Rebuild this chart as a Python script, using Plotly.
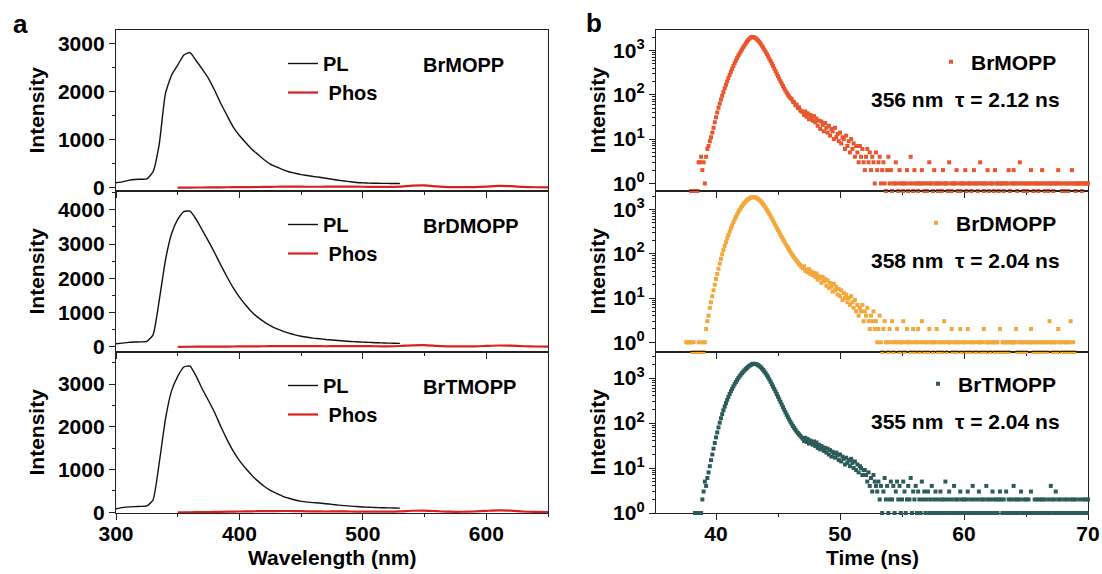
import numpy as np
import plotly.graph_objects as go

# ---------------- panel a: steady-state emission ----------------
wavelength = list(range(300, 535, 5))          # 300 ... 530 nm
pl_brmopp = [100, 120, 150, 170, 175, 180, 330, 900, 1950, 2340, 2550, 2760, 2810, 2640, 2460,
             2270, 2020, 1745, 1500, 1260, 1085, 940, 800, 690, 580, 490, 430, 375, 330, 300,
             270, 252, 232, 215, 195, 175, 155, 138, 122, 108, 100, 93, 91, 89, 88, 86, 85]
pl_brdmopp = [90, 110, 130, 140, 145, 160, 350, 1350, 2520, 3300, 3720, 3950, 3960, 3720, 3400,
              3080, 2740, 2380, 2040, 1720, 1450, 1220, 1020, 860, 730, 620, 530, 460, 400, 350,
              310, 280, 255, 235, 215, 200, 185, 170, 158, 148, 138, 130, 122, 116, 110, 106, 102]
pl_brtmopp = [85, 110, 128, 135, 140, 150, 290, 1150, 2170, 2840, 3180, 3400, 3420, 3180, 2880,
              2610, 2330, 2000, 1700, 1430, 1210, 1030, 870, 730, 610, 515, 445, 375, 330, 290,
              258, 240, 228, 220, 202, 186, 170, 157, 146, 136, 126, 119, 113, 109, 106, 103, 100]

phos_wavelength = list(range(350, 660, 10))    # 350 ... 650 nm
phos_brmopp = [0, 2, 3, 5, 8, 10, 12, 15, 18, 22, 20, 18, 20, 22, 20, 18, 15, 14, 20, 40,
               45, 25, 12, 10, 12, 22, 35, 30, 15, 8, 5]
phos_brdmopp = [0, 3, 5, 6, 8, 12, 15, 18, 20, 22, 22, 20, 18, 20, 22, 20, 18, 16, 25, 45,
                50, 30, 15, 12, 15, 28, 40, 35, 18, 10, 6]
phos_brtmopp = [0, 3, 6, 10, 15, 20, 25, 28, 30, 32, 28, 22, 20, 22, 20, 18, 16, 15, 22, 38,
                42, 28, 15, 14, 20, 35, 48, 40, 20, 10, 6]

# ---------------- panel b: TCSPC decays (counts per 0.1 ns channel) ----------------
channel_ns = 0.1

start_brmopp = 38.0
counts_brmopp = [
    0, 0, 0, 0, 0, 0, 3, 3, 4, 2,
    3, 1, 4, 6, 7, 9, 11, 14, 18, 24,
    31, 40, 51, 63, 78, 95, 115, 140, 168, 200,
    238, 280, 330, 385, 445, 515, 590, 670, 760, 850,
    950, 1060, 1180, 1300, 1440, 1580, 1720, 1850, 1950, 2010,
    2000, 1950, 1870, 1770, 1660, 1540, 1410, 1280, 1160, 1040,
    930, 830, 735, 650, 575, 505, 445, 390, 342, 300,
    263, 230, 202, 178, 157, 139, 124, 111, 100, 91,
    84, 80, 70, 68, 58, 60, 50, 52, 44, 42,
    41, 35, 42, 32, 38, 28, 35, 30, 26, 33,
    24, 29, 20, 26, 17, 25, 21, 15, 23, 18,
    14, 20, 12, 17, 15, 10, 18, 11, 13, 9,
    14, 8, 11, 10, 6, 12, 7, 9, 5, 10,
    6, 8, 4, 7, 5, 3, 7, 4, 6, 3,
    2, 4, 6, 3, 5, 2, 4, 3, 1, 5,
    2, 3, 4, 1, 2, 3, 1, 0, 2, 4,
    1, 2, 0, 1, 1, 3, 1, 0, 2, 1,
    1, 0, 1, 1, 2, 0, 1, 4, 1, 0,
    2, 1, 1, 0, 1, 1, 2, 1, 0, 1,
    0, 1, 3, 1, 1, 0, 2, 1, 1, 0,
    1, 1, 0, 2, 1, 1, 1, 0, 3, 1,
    0, 1, 1, 1, 2, 0, 1, 0, 1, 1,
    1, 2, 0, 1, 1, 1, 0, 1, 2, 1,
    1, 0, 1, 3, 1, 1, 0, 1, 1, 2,
    0, 1, 1, 1, 0, 2, 1, 1, 0, 1,
    1, 1, 0, 1, 1, 1, 2, 0, 1, 1,
    2, 1, 1, 0, 1, 3, 1, 1, 0, 1,
    1, 0, 1, 1, 2, 1, 0, 1, 1, 1,
    0, 1, 1, 2, 1, 0, 1, 1, 0, 1,
    1, 1, 0, 1, 1, 1, 2, 1, 1, 0,
    1, 0, 1, 1, 0, 1, 1, 2, 1, 1,
    0, 1, 1, 1, 1, 0, 1, 1, 1, 1,
    1,
]

start_brdmopp = 37.6
counts_brdmopp = [
    1, 1, 1, 1,
    1, 0, 1, 0, 0, 0, 1, 0, 0, 1,
    0, 1, 2, 3, 4, 6, 8, 11, 15, 20,
    27, 35, 46, 60, 77, 98, 122, 150, 183, 222,
    267, 318, 376, 440, 512, 592, 680, 775, 875, 980,
    1090, 1200, 1310, 1420, 1530, 1630, 1720, 1800, 1860, 1900,
    1920, 1910, 1870, 1810, 1730, 1640, 1540, 1430, 1320, 1210,
    1100, 995, 895, 800, 712, 632, 560, 495, 436, 384,
    345, 305, 270, 240, 214, 191, 171, 153, 137, 123,
    110, 100, 91, 83, 76, 70, 64, 59, 55, 51,
    47, 52, 41, 44, 38, 45, 35, 40, 33, 37,
    30, 36, 26, 31, 28, 22, 30, 24, 27, 19,
    25, 17, 22, 18, 14, 21, 15, 18, 12, 16,
    11, 15, 9, 13, 10, 12, 8, 10, 7, 11,
    8, 6, 9, 5, 7, 4, 6, 5, 7, 3,
    5, 4, 6, 3, 2, 4, 3, 5, 2, 3,
    1, 2, 4, 1, 0, 2, 3, 1, 1, 0,
    2, 1, 3, 0, 1, 1, 2, 1, 0, 1,
    1, 3, 0, 1, 2, 1, 1, 0, 1, 2,
    0, 1, 1, 2, 0, 1, 3, 1, 0, 1,
    1, 0, 2, 1, 1, 0, 1, 1, 2, 0,
    1, 1, 0, 1, 3, 1, 0, 1, 1, 1,
    2, 0, 1, 1, 0, 1, 1, 2, 0, 1,
    1, 1, 0, 2, 1, 0, 1, 1, 1, 0,
    0, 1, 1, 1, 0, 1, 2, 0, 1, 1,
    1, 0, 1, 1, 1, 0, 1, 1, 0, 2,
    0, 1, 1, 0, 1, 1, 0, 1, 1, 1,
    1, 1, 2, 0, 1, 0, 1, 1, 0, 1,
    0, 1, 1, 1, 2, 1, 0, 1, 1, 0,
    1, 0, 1, 1, 0, 1, 1, 0, 1, 3,
    1, 1, 0, 1, 1, 0, 2, 1, 1, 0,
    1, 0, 1, 1, 0, 1, 3, 0, 1, 0,
]

start_brtmopp = 38.3
counts_brtmopp = [
    0, 0, 0, 0, 0, 0, 2,
    3, 5, 4, 6, 8, 11, 15, 20, 27, 36,
    48, 62, 80, 102, 128, 158, 193, 233, 278, 328,
    383, 443, 508, 578, 653, 733, 818, 908, 1000, 1095,
    1190, 1290, 1390, 1490, 1590, 1690, 1790, 1880, 1960, 2030,
    2070, 2080, 2060, 2010, 1940, 1850, 1750, 1640, 1520, 1400,
    1280, 1160, 1045, 935, 830, 735, 650, 572, 502, 440,
    385, 337, 295, 258, 226, 198, 174, 153, 135, 120,
    107, 96, 86, 78, 71, 65, 60, 56, 52, 48,
    45, 40, 47, 38, 44, 35, 41, 36, 33, 39,
    31, 37, 28, 33, 26, 31, 29, 24, 28, 22,
    27, 20, 25, 18, 23, 21, 17, 22, 19, 15,
    20, 14, 18, 16, 12, 17, 13, 15, 11, 16,
    13, 10, 14, 9, 12, 8, 11, 10, 7, 9,
    9, 7, 5, 8, 4, 6, 3, 7, 5, 4,
    3, 5, 2, 4, 1, 3, 6, 2, 4, 1,
    2, 5, 2, 4, 1, 3, 5, 2, 4, 1,
    2, 5, 3, 1, 2, 4, 2, 6, 1, 3,
    2, 4, 1, 3, 2, 1, 5, 2, 3, 1,
    2, 3, 1, 2, 4, 1, 2, 3, 1, 2,
    1, 3, 2, 1, 2, 5, 1, 2, 3, 1,
    2, 1, 4, 2, 1, 2, 1, 3, 2, 1,
    2, 1, 2, 3, 1, 2, 1, 4, 2, 1,
    1, 2, 3, 1, 2, 1, 2, 1, 4, 2,
    1, 2, 1, 3, 2, 1, 2, 1, 2, 3,
    2, 1, 2, 1, 3, 1, 2, 1, 2, 1,
    4, 2, 1, 2, 1, 2, 3, 1, 2, 1,
    2, 1, 2, 1, 3, 1, 1, 2, 1, 2,
    1, 2, 1, 2, 1, 2, 1, 1, 2, 1,
    4, 2, 1, 2, 3, 1, 2, 1, 2, 1,
    1, 2, 1, 2, 1, 1, 2, 1, 2, 1,
    2, 1, 1, 2, 1, 1, 2, 1, 2, 1,
    2,
]

samples = ["BrMOPP", "BrDMOPP", "BrTMOPP"]
pl_series = [pl_brmopp, pl_brdmopp, pl_brtmopp]
phos_series = [phos_brmopp, phos_brdmopp, phos_brtmopp]
decay_series = [(start_brmopp, counts_brmopp), (start_brdmopp, counts_brdmopp),
                (start_brtmopp, counts_brtmopp)]
emission_peak = ["356 nm", "358 nm", "355 nm"]
lifetime = ["2.12 ns", "2.04 ns", "2.04 ns"]

# ---------------- styling ----------------
W, H = 1102, 574
FONT = "Liberation Sans, Arial, sans-serif"
decay_colors = ["#E8562E", "#F3A83B", "#2B5C5A"]
pl_color = "#111111"
phos_color = "#DA1F1F"
axis_color = "#222222"

left_y_ranges = [[-70, 3280], [-150, 4550], [-15, 3750]]
right_y_ranges = [[-0.17, 3.46], [-0.22, 3.42], [0.0, 3.58]]   # log10 units
rows_px = [(30, 191), (191, 352), (352, 513)]
left_px = (116, 548)
right_px = (656, 1088)


def font(size=21, color="black"):
    return dict(family=FONT, size=size, color=color, weight="bold")


def xdom(px):
    return [px[0] / W, px[1] / W]


def ydom(row):
    return [1 - row[1] / H, 1 - row[0] / H]


def label(text, x_px, y_px, size=21, xanchor="center", angle=0):
    return dict(text=text, x=x_px / W, y=1 - y_px / H, xref="paper", yref="paper",
                xanchor=xanchor, yanchor="middle", textangle=angle, showarrow=False,
                font=font(size))


fig = go.Figure()

legend_names = ["legend", "legend2", "legend3", "legend4", "legend5", "legend6"]

# panel a traces
for i in range(3):
    ax = str(i + 1)
    fig.add_trace(go.Scatter(
        x=wavelength, y=pl_series[i], mode="lines", name="PL",
        line=dict(color=pl_color, width=1.4, shape="spline", smoothing=0.5),
        xaxis="x" + ax, yaxis="y" + ax, legend=legend_names[i]))
    fig.add_trace(go.Scatter(
        x=phos_wavelength, y=phos_series[i], mode="lines", name="\u00a0Phos",
        line=dict(color=phos_color, width=2.2, shape="spline", smoothing=0.6),
        xaxis="x" + ax, yaxis="y" + ax, legend=legend_names[i]))

# panel b traces: empty channels are drawn on the axis floor
for i in range(3):
    ax = str(i + 4)
    t_start, counts = decay_series[i]
    counts = np.asarray(counts, dtype=float)
    times = np.round(t_start + channel_ns * np.arange(counts.size), 2)
    floor = 10 ** right_y_ranges[i][0]
    shown = np.where(counts > 0, counts, floor)
    fig.add_trace(go.Scatter(
        x=times, y=shown, mode="markers", name=samples[i],
        marker=dict(symbol="square", size=4, color=decay_colors[i], line=dict(width=0)),
        cliponaxis=False, xaxis="x" + ax, yaxis="y" + ax, legend=legend_names[i + 3]))

layout = dict(
    width=W, height=H, margin=dict(l=0, r=0, t=0, b=0, autoexpand=False),
    paper_bgcolor="white", plot_bgcolor="white", font=font(),
)

common_axis = dict(showline=True, mirror=True, linecolor=axis_color, linewidth=1.3,
                   showgrid=False, zeroline=False, ticks="outside", ticklen=6,
                   tickwidth=1.3, tickcolor=axis_color, tickfont=font(), automargin=False)

for i in range(3):
    ax = str(i + 1)
    layout["xaxis" + ax] = dict(
        common_axis, domain=xdom(left_px), anchor="y" + ax, range=[300, 650],
        tick0=300, dtick=100, showticklabels=(i == 2), ticklabelstandoff=-4,
        minor=dict(ticks="outside", ticklen=3, dtick=50, tick0=300, tickcolor=axis_color))
    layout["yaxis" + ax] = dict(
        common_axis, domain=ydom(rows_px[i]), anchor="x" + ax, range=left_y_ranges[i],
        tick0=0, dtick=1000,
        minor=dict(ticks="outside", ticklen=3, dtick=500, tick0=0, tickcolor=axis_color))

log_major = [1, 10, 100, 1000]
log_minor = [m * d for d in (1, 10, 100, 1000) for m in range(2, 10)]
for i in range(3):
    ax = str(i + 4)
    layout["xaxis" + ax] = dict(
        common_axis, domain=xdom(right_px), anchor="y" + ax, range=[35.16, 70],
        tick0=0, dtick=10, showticklabels=(i == 2), layer="below traces",
        ticklabelstandoff=-4,
        minor=dict(ticks="outside", ticklen=3, dtick=5, tick0=0, tickcolor=axis_color))
    layout["yaxis" + ax] = dict(
        common_axis, domain=ydom(rows_px[i]), anchor="x" + ax, type="log",
        range=right_y_ranges[i], tickmode="array", tickvals=log_major,
        ticktext=["10<sup>%d</sup>" % k for k in range(4)], layer="below traces",
        minor=dict(ticks="outside", ticklen=3, tickmode="array", tickvals=log_minor,
                   tickcolor=axis_color))

# legends
for i in range(3):
    top = rows_px[i][0]
    layout[legend_names[i]] = dict(
        x=283 / W, y=1 - (top + 14) / H, xanchor="left", yanchor="top",
        bgcolor="rgba(0,0,0,0)", font=font(20), tracegroupgap=0, itemwidth=30)
    layout[legend_names[i + 3]] = dict(
        x=1062 / W, y=1 - (top + 32) / H, xanchor="right", yanchor="middle",
        bgcolor="rgba(0,0,0,0)", font=font(), itemsizing="trace")

annotations = []
for i in range(3):
    top, bot = rows_px[i]
    mid = (top + bot) / 2
    annotations.append(label("Intensity", 36, mid, angle=-90))
    annotations.append(label("Intensity", 597, mid, angle=-90))
    annotations.append(label(samples[i], 421, top + 35, size=20, xanchor="left"))
    annotations.append(label(emission_peak[i] + "\u00a0\u00a0\u03c4 = " + lifetime[i],
                             1062, top + 69, xanchor="right"))

annotations += [
    label("Wavelength (nm)", 332, 557),
    label("Time (ns)", 872, 557),
    label("a", 20, 24, size=26),
    label("b", 594, 23, size=26),
]
layout["annotations"] = annotations

fig.update_layout(**layout)
fig.write_html("out.html")
